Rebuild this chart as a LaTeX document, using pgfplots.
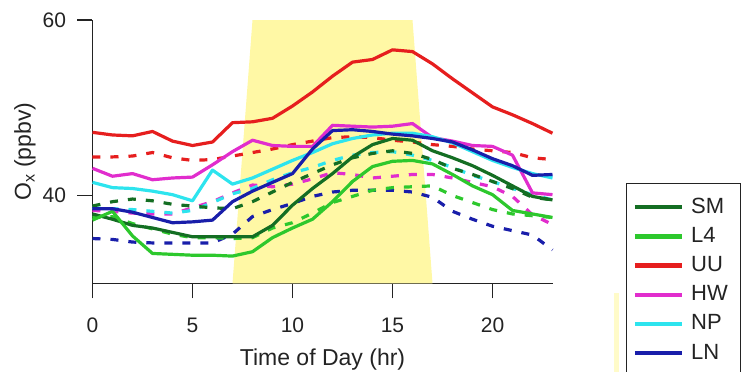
\documentclass[border=0pt]{standalone}
\usepackage{pgfplots}
\pgfplotsset{compat=1.18}
\usepackage{fontspec}
\setmainfont{Liberation Sans}
\definecolor{cSM}{RGB}{20,110,35}
\definecolor{cL4}{RGB}{45,200,45}
\definecolor{cUU}{RGB}{230,30,30}
\definecolor{cHW}{RGB}{225,45,205}
\definecolor{cNP}{RGB}{45,228,238}
\definecolor{cLN}{RGB}{25,30,170}
\definecolor{cYel}{RGB}{255,248,165}
\definecolor{txt}{RGB}{35,35,35}
\begin{document}
\begin{tikzpicture}
\path[use as bounding box] (-92.5pt,-88.7pt) rectangle (651.5pt,283.3pt);
\fill[cYel!60] (521pt,-88.7pt) rectangle (526pt,-10pt);
\begin{axis}[
  at={(0,0)}, anchor=south west,
  scale only axis, width=460pt, height=263.3pt,
  xmin=0, xmax=23, ymin=30, ymax=60,
  axis lines=left, axis line style={-, line width=1.4pt, txt},
  xtick={0,5,10,15,20}, ytick={40,60},
  tick align=outside, major tick length=15pt,
  tick style={line width=1.4pt, txt},
  /pgf/number format/assume math mode=true,
  ticklabel style={font=\fontsize{21}{24}\selectfont, text=txt},
  xticklabel style={yshift=-16pt},
  yticklabel style={xshift=-8pt},
  xlabel={Time of Day (hr)},
  ylabel={O$_\mathrm{x}$ (ppbv)},
  label style={font=\fontsize{23}{26}\selectfont, text=txt},
  xlabel style={yshift=-9pt},
  ylabel style={yshift=0pt},
  clip=false,
  legend style={at={(1.1598,0.381)}, anchor=north west,
    draw=txt, line width=1.2pt, inner xsep=6pt, inner ysep=9pt,
    font=\fontsize{22}{24}\selectfont, text=txt,
    row sep=0pt,
    nodes={inner ysep=4.6pt, text height=16pt, text depth=4pt, inner xsep=7pt}},
  legend cell align=left,
  legend image code/.code={\draw[line width=4.5pt, #1] (0pt,0pt) -- (47pt,0pt);},
  every axis plot/.append style={line width=3.2pt, line join=round},
]
\addplot[fill=cYel, draw=none, forget plot] coordinates {(7,30) (8,60) (16,60) (17,30) (7,30)};
% dashed series
\addplot[cLN, dash pattern=on 8pt off 10pt, forget plot] coordinates {
(0,35.1)(1,35.0)(2,34.7)(3,34.6)(4,34.6)(5,34.6)(6,34.6)(7,35.6)(8,37.6)(9,38.4)(10,39.1)(11,39.9)(12,40.4)(13,40.6)(14,40.6)(15,40.6)(16,40.4)(17,39.8)(18,38.2)(19,37.3)(20,36.5)(21,36.0)(22,35.5)(23,33.8)};
\addplot[cL4, dash pattern=on 8pt off 10pt, forget plot] coordinates {
(0,37.5)(1,37.6)(2,36.8)(3,36.2)(4,35.6)(5,35.2)(6,35.2)(7,35.1)(8,35.2)(9,36.3)(10,36.9)(11,38.0)(12,39.2)(13,39.9)(14,40.6)(15,40.9)(16,41.0)(17,41.1)(18,40.0)(19,39.2)(20,38.4)(21,37.9)(22,37.7)(23,37.5)};
\addplot[cHW, dash pattern=on 8pt off 10pt, forget plot] coordinates {
(0,38.3)(1,38.2)(2,38.0)(3,37.9)(4,37.9)(5,38.6)(6,39.3)(7,40.3)(8,41.2)(9,41.0)(10,41.3)(11,41.9)(12,42.6)(13,42.4)(14,42.0)(15,42.2)(16,42.4)(17,42.4)(18,42.0)(19,41.5)(20,41.0)(21,39.9)(22,37.8)(23,36.7)};
\addplot[cNP, dash pattern=on 8pt off 10pt, forget plot] coordinates {
(0,38.6)(1,38.5)(2,38.4)(3,38.2)(4,38.0)(5,38.3)(6,39.2)(7,40.2)(8,40.8)(9,41.8)(10,42.6)(11,43.2)(12,44.0)(13,44.6)(14,44.9)(15,45.0)(16,44.6)(17,44.0)(18,43.2)(19,42.3)(20,41.6)(21,40.8)(22,40.1)(23,39.5)};
\addplot[cSM, dash pattern=on 8pt off 10pt, forget plot] coordinates {
(0,38.8)(1,39.3)(2,39.6)(3,39.4)(4,39.0)(5,38.8)(6,38.6)(7,38.5)(8,39.3)(9,40.4)(10,41.5)(11,42.5)(12,43.5)(13,44.3)(14,44.8)(15,45.1)(16,44.8)(17,44.1)(18,43.1)(19,42.4)(20,41.6)(21,40.8)(22,39.8)(23,39.5)};
\addplot[cUU, dash pattern=on 8pt off 10pt, forget plot] coordinates {
(0,44.4)(1,44.4)(2,44.5)(3,44.9)(4,44.3)(5,44.0)(6,44.1)(7,44.5)(8,44.9)(9,45.3)(10,45.8)(11,46.2)(12,46.6)(13,46.7)(14,46.6)(15,46.3)(16,46.1)(17,45.8)(18,45.6)(19,45.3)(20,45.1)(21,44.9)(22,44.3)(23,44.1)};
% solid series
\addplot[cSM] coordinates {
(0,37.9)(1,37.3)(2,36.6)(3,36.3)(4,35.8)(5,35.3)(6,35.3)(7,35.3)(8,35.3)(9,36.6)(10,38.9)(11,40.8)(12,42.5)(13,44.4)(14,45.8)(15,46.5)(16,46.3)(17,45.1)(18,44.3)(19,43.4)(20,42.3)(21,41.1)(22,39.9)(23,39.5)};
\addlegendentry{SM}
\addplot[cL4] coordinates {
(0,37.2)(1,38.2)(2,35.4)(3,33.4)(4,33.3)(5,33.2)(6,33.2)(7,33.1)(8,33.6)(9,35.2)(10,36.3)(11,37.3)(12,39.3)(13,41.6)(14,43.3)(15,43.9)(16,44.0)(17,43.6)(18,42.4)(19,41.1)(20,40.1)(21,38.3)(22,37.9)(23,37.5)};
\addlegendentry{L4}
\addplot[cUU] coordinates {
(0,47.2)(1,46.9)(2,46.8)(3,47.3)(4,46.2)(5,45.7)(6,46.1)(7,48.3)(8,48.4)(9,48.8)(10,50.2)(11,51.8)(12,53.6)(13,55.2)(14,55.5)(15,56.6)(16,56.4)(17,55.0)(18,53.3)(19,51.7)(20,50.1)(21,49.2)(22,48.2)(23,47.1)};
\addlegendentry{UU}
\addplot[cHW] coordinates {
(0,43.1)(1,42.2)(2,42.5)(3,41.8)(4,42.0)(5,42.1)(6,43.5)(7,45.0)(8,46.3)(9,45.7)(10,45.6)(11,45.6)(12,48.0)(13,47.9)(14,47.8)(15,47.9)(16,48.2)(17,46.6)(18,46.2)(19,45.7)(20,45.6)(21,44.6)(22,40.3)(23,40.1)};
\addlegendentry{HW}
\addplot[cNP] coordinates {
(0,41.5)(1,40.9)(2,40.8)(3,40.5)(4,40.1)(5,39.4)(6,42.9)(7,41.3)(8,42.0)(9,43.0)(10,44.0)(11,44.9)(12,45.9)(13,46.5)(14,46.9)(15,47.1)(16,47.1)(17,46.7)(18,46.0)(19,45.0)(20,44.0)(21,43.2)(22,42.5)(23,42.0)};
\addlegendentry{NP}
\addplot[cLN] coordinates {
(0,38.5)(1,38.5)(2,38.1)(3,37.5)(4,36.9)(5,37.0)(6,37.2)(7,39.3)(8,40.5)(9,41.5)(10,42.5)(11,45.3)(12,47.4)(13,47.5)(14,47.3)(15,47.0)(16,46.8)(17,46.5)(18,46.1)(19,45.2)(20,44.2)(21,43.4)(22,42.3)(23,42.4)};
\addlegendentry{LN}
\end{axis}
\end{tikzpicture}
\end{document}
